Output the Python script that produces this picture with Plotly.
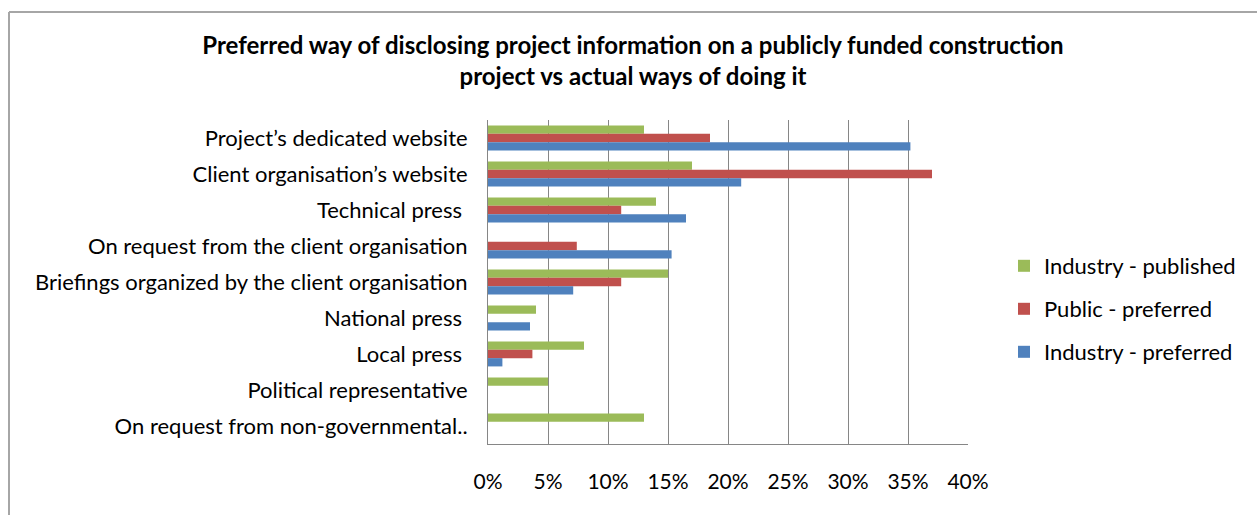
import plotly.graph_objects as go

categories = [
    "Project\u2019s dedicated website",
    "Client organisation\u2019s website",
    "Technical press ",
    "On request from the client organisation",
    "Briefings organized by the client organisation",
    "National press ",
    "Local press ",
    "Political representative",
    "On request from non-governmental..",
]

industry_published = [13.0, 17.0, 14.0, 0.0, 15.0, 4.0, 8.0, 5.0, 13.0]
public_preferred = [18.5, 37.0, 11.1, 7.4, 11.1, 0.0, 3.7, 0.0, 0.0]
industry_preferred = [35.2, 21.1, 16.5, 15.3, 7.1, 3.5, 1.2, 0.0, 0.0]

series_names = ["Industry - published", "Public - preferred", "Industry - preferred"]
series_colors = ["#9BBB59", "#C0504D", "#4F81BD"]
tick_values = [0, 5, 10, 15, 20, 25, 30, 35, 40]
tick_labels = ["0%", "5%", "10%", "15%", "20%", "25%", "30%", "35%", "40%"]

FONT = "Lato"
W, H = 1257, 515
L, R, T, B = 488, 289, 120, 71
PW, PH = W - L - R, H - T - B


def px_x(p):
    return (p - L) / PW


def px_y(p):
    return (H - B - p) / PH


fig = go.Figure()
legend_ids = ["legend2", "legend3", "legend4"]
for name, vals, color, lg in zip(series_names,
                                 [industry_published, public_preferred, industry_preferred],
                                 series_colors, legend_ids):
    fig.add_trace(go.Bar(
        y=categories, x=vals, name=name, orientation="h",
        marker=dict(color=color, line=dict(width=0)),
        legend=lg,
    ))

# one legend box per series so the entries sit on an even 43 px rhythm
legend_centres = [266, 309, 352]
legend_style = {}
for lg, yc in zip(legend_ids, legend_centres):
    legend_style[lg] = dict(
        x=px_x(1004), xanchor="left",
        y=px_y(yc), yanchor="middle",
        font=dict(family=FONT, size=22, color="#000000"),
        bgcolor="rgba(0,0,0,0)", borderwidth=0,
        itemwidth=30,
    )

frame = dict(type="line", xref="paper", yref="paper",
             line=dict(color="#A6A6A6", width=2), layer="below")

fig.update_layout(
    width=W, height=H,
    margin=dict(l=L, r=R, t=T, b=B, pad=0),
    paper_bgcolor="white", plot_bgcolor="white",
    barmode="group", bargap=0.31, bargroupgap=0,
    title=dict(
        text="Preferred way of disclosing project information on a publicly funded construction<br>project vs actual ways of doing it",
        x=633 / W, xref="container", xanchor="center",
        y=1 - 54 / H, yref="container", yanchor="top",
        font=dict(family=FONT, size=24, color="#000000", weight="bold"),
    ),
    xaxis=dict(
        range=[0, 40], tickvals=tick_values, ticktext=tick_labels,
        showgrid=True, gridcolor="#868686", gridwidth=1,
        showline=True, linecolor="#868686", linewidth=1,
        ticks="",
        tickfont=dict(family=FONT, size=21, color="#000000"),
        ticklabelstandoff=19,
        zeroline=False, fixedrange=True,
    ),
    yaxis=dict(
        categoryorder="array", categoryarray=categories,
        autorange="reversed",
        showline=True, linecolor="#868686", linewidth=1,
        ticks="",
        tickfont=dict(family=FONT, size=22, color="#000000"),
        ticklabelstandoff=15,
        showgrid=False, zeroline=False,
    ),
    showlegend=True,
    shapes=[
        dict(frame, x0=px_x(9), x1=px_x(1300), y0=px_y(12), y1=px_y(12)),
        dict(frame, x0=px_x(9), x1=px_x(9), y0=px_y(12), y1=px_y(560)),
    ],
    **legend_style,
)

fig.write_html("out.html")
